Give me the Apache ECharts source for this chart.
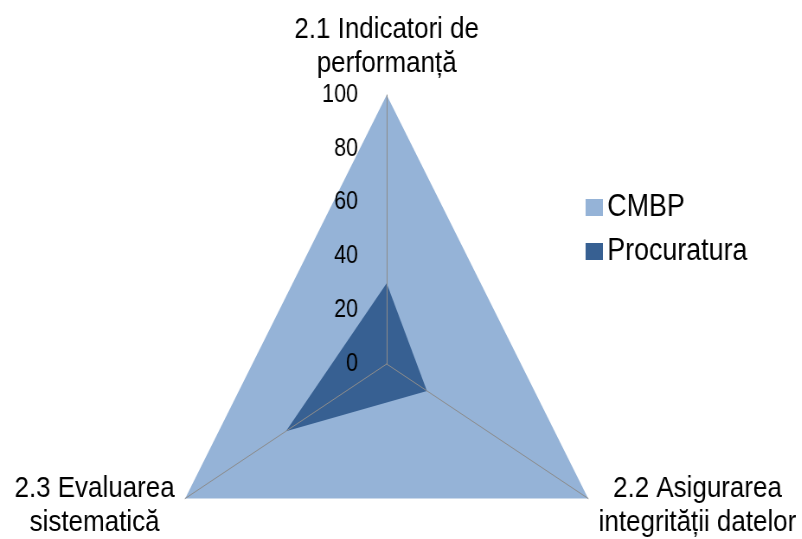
<!DOCTYPE html>
<html>
<head>
<meta charset="utf-8">
<script src="https://cdn.jsdelivr.net/npm/echarts@6/dist/echarts.min.js"></script>
<style>
  html, body { margin: 0; padding: 0; background: #fff; overflow: hidden; }
  #wrap { width: 802px; height: 539px; overflow: hidden; }
  /* the original picture is squeezed horizontally */
  #chart { width: 927px; height: 539px; transform: scaleX(0.865); transform-origin: 0 0; }
</style>
</head>
<body>
<div id="wrap"><div id="chart"></div></div>
<script>
// indicatori
const categories = ['2.1 Indicatori de\nperformanță', '2.2 Asigurarea\nintegrității datelor', '2.3 Evaluarea\nsistematică'];
const seriesNames = ['CMBP', 'Procuratura'];
const cmbpValues = [100, 100, 100];
const procuraturaValues = [30, 20, 50];
const tickLabels = [0, 20, 40, 60, 80, 100];

// echarts walks radar axes counter-clockwise, the original goes clockwise
const order = [0, 2, 1];
const pick = function (arr) { return order.map(function (i) { return arr[i]; }); };

const cx = 447, cy = 364, r = 269;
const font = 'Liberation Sans, Arial, sans-serif';

const chart = echarts.init(document.getElementById('chart'));

const option = {
  animation: false,
  backgroundColor: '#fff',
  color: ['#95B3D7', '#376092'],
  legend: {
    orient: 'vertical',
    left: 672,
    top: 187,
    itemWidth: 20,
    itemHeight: 17,
    itemGap: 13,
    icon: 'rect',
    data: seriesNames,
    textStyle: { fontFamily: font, fontSize: 31, lineHeight: 31, color: '#000' }
  },
  radar: {
    z: 5,
    center: [cx, cy],
    radius: r,
    startAngle: 90,
    shape: 'polygon',
    splitNumber: 5,
    nameGap: 14,
    indicator: pick(categories).map(function (c) { return { name: c, min: 0, max: tickLabels[tickLabels.length - 1] }; }),
    axisName: {
      color: '#000',
      fontFamily: font,
      fontSize: 30,
      formatter: function (v) {
        return v.split('\n').map(function (s) { return '{c|' + s + '}'; }).join('\n');
      },
      rich: {
        c: { align: 'center', fontFamily: font, fontSize: 30, lineHeight: 34, color: '#000' }
      }
    },
    axisLine: { lineStyle: { color: '#8C8C8C', width: 1 } },
    splitLine: { show: false },
    splitArea: { show: false },
    axisTick: { show: false },
    axisLabel: { show: false }
  },
  // value labels along the top spoke
  grid: { z: 10, left: cx, top: cy - r, width: 1, height: r, containLabel: false },
  xAxis: { type: 'value', show: false },
  yAxis: {
    type: 'value',
    z: 10,
    min: tickLabels[0],
    max: tickLabels[tickLabels.length - 1],
    interval: 20,
    axisLine: { show: false },
    axisTick: { show: false },
    splitLine: { show: false },
    axisLabel: { margin: 33, fontFamily: font, fontSize: 25, color: '#000' }
  },
  series: [{
    type: 'radar',
    z: 1,
    symbol: 'none',
    data: [
      { name: seriesNames[0], value: pick(cmbpValues), areaStyle: { color: '#95B3D7', opacity: 1 }, lineStyle: { width: 0, color: '#95B3D7' } },
      { name: seriesNames[1], value: pick(procuraturaValues), areaStyle: { color: '#376092', opacity: 1 }, lineStyle: { width: 0, color: '#376092' } }
    ]
  }]
};

chart.setOption(option);
</script>
</body>
</html>
